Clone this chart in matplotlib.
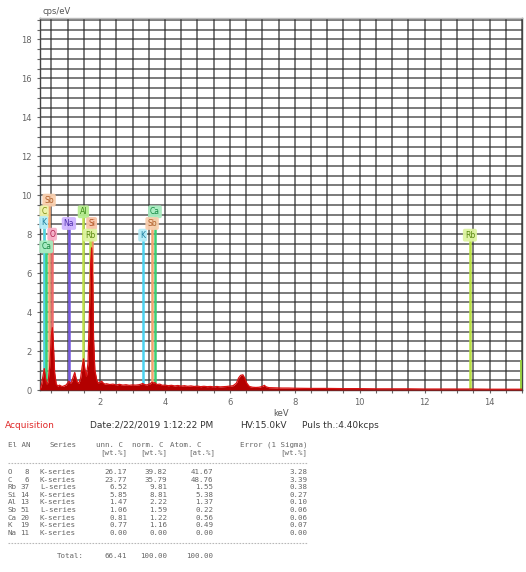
import matplotlib
matplotlib.use("Agg")
import matplotlib.pyplot as plt
from matplotlib.ticker import MultipleLocator

# ---- spectrum (energy in keV, intensity in cps/eV) ----
energy_kev = [
    0.15, 0.20, 0.25, 0.28, 0.32, 0.36, 0.40, 0.45, 0.50, 0.53, 0.56, 0.60,
    0.65, 0.70, 0.75, 0.80, 0.85, 0.90, 0.95, 1.00, 1.04, 1.08, 1.12, 1.18,
    1.22, 1.26, 1.30, 1.35, 1.40, 1.45, 1.49, 1.53, 1.58, 1.63, 1.67, 1.71,
    1.74, 1.77, 1.80, 1.84, 1.90, 1.95, 2.00, 2.05, 2.10, 2.15, 2.20, 2.30,
    2.40, 2.50, 2.60, 2.70, 2.80, 2.90, 3.00, 3.10, 3.20, 3.27, 3.31, 3.36,
    3.45, 3.55, 3.60, 3.65, 3.69, 3.75, 3.84, 3.92, 4.00, 4.10, 4.20, 4.30,
    4.40, 4.50, 4.60, 4.70, 4.80, 4.90, 5.00, 5.10, 5.20, 5.30, 5.40, 5.50,
    5.60, 5.70, 5.80, 5.90, 6.00, 6.10, 6.20, 6.27, 6.33, 6.40, 6.46, 6.52,
    6.60, 6.70, 6.80, 6.90, 7.00, 7.06, 7.12, 7.20, 7.40, 7.60, 7.80, 8.00,
    8.50, 9.00, 9.50, 10.00, 10.50, 11.00, 11.50, 12.00, 12.50, 13.00,
    13.50, 14.00, 14.50, 15.00,
]
intensity_cps = [
    0.00, 0.30, 0.80, 1.10, 0.60, 0.30, 0.40, 1.20, 2.80, 3.20, 2.40, 0.90,
    0.30, 0.20, 0.25, 0.20, 0.18, 0.22, 0.25, 0.35, 0.45, 0.35, 0.40, 0.70,
    0.90, 0.60, 0.40, 0.35, 0.60, 1.20, 1.60, 1.10, 0.70, 1.40, 3.80, 6.50,
    7.30, 5.80, 2.60, 1.00, 0.50, 0.35, 0.40, 0.45, 0.35, 0.30, 0.32, 0.28,
    0.30, 0.26, 0.29, 0.25, 0.27, 0.24, 0.26, 0.25, 0.27, 0.30, 0.34, 0.28,
    0.26, 0.33, 0.40, 0.36, 0.38, 0.28, 0.30, 0.24, 0.25, 0.22, 0.24, 0.21,
    0.23, 0.20, 0.22, 0.19, 0.21, 0.18, 0.20, 0.17, 0.19, 0.17, 0.18, 0.16,
    0.18, 0.16, 0.17, 0.18, 0.20, 0.22, 0.35, 0.62, 0.75, 0.78, 0.60, 0.35,
    0.18, 0.14, 0.13, 0.14, 0.18, 0.24, 0.16, 0.12, 0.11, 0.10, 0.10, 0.09,
    0.08, 0.08, 0.07, 0.07, 0.06, 0.06, 0.06, 0.05, 0.05, 0.05,
    0.05, 0.04, 0.04, 0.04,
]

# ---- element line markers: symbol, line energy (keV), label height (cps/eV) ----
marker_symbols = ["Sb", "C", "K", "O", "Ca", "Na", "Al", "Si", "Rb", "K", "Ca", "Sb", "Rb"]
marker_energies = [0.43, 0.277, 0.26, 0.525, 0.341, 1.041, 1.487, 1.740, 1.694,
                   3.313, 3.691, 3.604, 13.395]
marker_heights = [9.75, 9.15, 8.60, 8.00, 7.35, 8.55, 9.15, 8.55, 7.95,
                  7.95, 9.15, 8.55, 7.95]

# element colours: (line colour, label face, label text)
element_colors = {
    "Sb": ("#f2a470", "#f9cfae", "#b0602a"),
    "C":  ("#d6e24a", "#eef2a8", "#7c8a10"),
    "K":  ("#4cd2f0", "#b4ecf8", "#1a7ea0"),
    "O":  ("#f06a6a", "#f7b0c8", "#b02050"),
    "Ca": ("#3ccf74", "#a8ecc0", "#178a44"),
    "Na": ("#7458e0", "#cfb4ff", "#5030b0"),
    "Al": ("#bfe24a", "#b8ee90", "#3c8a18"),
    "Si": ("#f09060", "#f8c4a8", "#b05020"),
    "Rb": ("#b8e040", "#def4a0", "#5a8a10"),
}

# ---- quantification table ----
table_elements = ["O", "C", "Rb", "Si", "Al", "Sb", "Ca", "K", "Na"]
table_atomic_no = [8, 6, 37, 14, 13, 51, 20, 19, 11]
table_series = ["K-series", "K-series", "L-series", "K-series", "K-series",
                "L-series", "K-series", "K-series", "K-series"]
table_unn = [26.17, 23.77, 6.52, 5.85, 1.47, 1.06, 0.81, 0.77, 0.00]
table_norm = [39.82, 35.79, 9.81, 8.81, 2.22, 1.59, 1.22, 1.16, 0.00]
table_atom = [41.67, 48.76, 1.55, 5.38, 1.37, 0.22, 0.56, 0.49, 0.00]
table_error = [3.28, 3.39, 0.38, 0.27, 0.10, 0.06, 0.06, 0.07, 0.00]
total_unn, total_norm, total_atom = 66.41, 100.00, 100.00

W, H = 526, 572
fig = plt.figure(figsize=(W / 100, H / 100), dpi=100)
fig.patch.set_facecolor("white")


def fpos(x, y):
    """pixel position (from top-left) to figure fraction"""
    return x / W, 1 - y / H


ax = fig.add_axes([40 / W, 1 - 390 / H, 482 / W, 372 / H])
ax.set_xlim(0.15, 15.0)
ax.set_ylim(0, 19.1)

ax.xaxis.set_major_locator(MultipleLocator(2))
ax.xaxis.set_minor_locator(MultipleLocator(0.5))
ax.yaxis.set_major_locator(MultipleLocator(2))
ax.yaxis.set_minor_locator(MultipleLocator(0.5))
ax.grid(which="both", color="#2a2a2a", linewidth=1.2, alpha=0.72)
ax.set_axisbelow(True)
ax.tick_params(which="both", labelsize=6, colors="#666666", length=2.5, width=0.8)
ax.tick_params(which="minor", length=2)
ax.set_xticks([2, 4, 6, 8, 10, 12, 14])
ax.set_yticks(list(range(0, 19, 2)))
for s in ax.spines.values():
    s.set_color("#444444")
    s.set_linewidth(1.0)
ax.spines["top"].set_color("#bbbbbb")

# element marker lines with labels
for sym, e, h in zip(marker_symbols, marker_energies, marker_heights):
    lc, fc, tc = element_colors[sym]
    ax.plot([e, e], [0, h - 0.25], color=lc, linewidth=1.8, zorder=3)
    ax.text(e, h, sym, fontsize=5.5, color=tc, ha="center", va="center", zorder=6,
            bbox=dict(boxstyle="round,pad=0.25", facecolor=fc, edgecolor="none", alpha=0.95))
ax.plot([14.96, 14.96], [0, 1.5], color="#9ad040", linewidth=1.4, zorder=3)

# spectrum
ax.fill_between(energy_kev, intensity_cps, 0, color="#b30000", linewidth=0, zorder=4)
ax.plot(energy_kev, intensity_cps, color="#d81010", linewidth=0.9, zorder=5)

ax.set_xlabel("keV", fontsize=6, color="#555555", labelpad=1)
ax.text(0.005, 1.005, "cps/eV", transform=ax.transAxes, fontsize=6, color="#555555",
        ha="left", va="bottom")

# acquisition line
fig.text(*fpos(5, 425), "Acquisition", fontsize=6.5, color="#e02828", va="center")
fig.text(*fpos(90, 425), "Date:2/22/2019 1:12:22 PM", fontsize=6.5, color="#333333", va="center")
fig.text(*fpos(240, 425), "HV:15.0kV", fontsize=6.5, color="#333333", va="center")
fig.text(*fpos(302, 425), "Puls th.:4.40kcps", fontsize=6.5, color="#333333", va="center")

# quantification table
mono = dict(family="DejaVu Sans Mono", fontsize=5.4, color="#666666", va="center")
fig.text(*fpos(8, 445), "El AN", ha="left", **mono)
fig.text(*fpos(50, 445), "Series", ha="left", **mono)
fig.text(*fpos(123, 445), "unn. C", ha="right", **mono)
fig.text(*fpos(163, 445), "norm. C", ha="right", **mono)
fig.text(*fpos(202, 445), "Atom. C", ha="right", **mono)
fig.text(*fpos(307, 445), "Error (1 Sigma)", ha="right", **mono)
fig.text(*fpos(127, 453), "[wt.%]", ha="right", **mono)
fig.text(*fpos(167, 453), "[wt.%]", ha="right", **mono)
fig.text(*fpos(215, 453), "[at.%]", ha="right", **mono)
fig.text(*fpos(307, 453), "[wt.%]", ha="right", **mono)

for yy in (463, 543):
    x0, y0 = fpos(8, yy)
    x1, _ = fpos(307, yy)
    fig.add_artist(plt.Line2D([x0, x1], [y0, y0], color="#b8b8b8", linewidth=0.8,
                              linestyle=(0, (1.5, 1.2)), transform=fig.transFigure))

for i, el in enumerate(table_elements):
    yy = 472 + 7.6 * i
    fig.text(*fpos(8, yy), el, ha="left", **mono)
    fig.text(*fpos(29, yy), str(table_atomic_no[i]), ha="right", **mono)
    fig.text(*fpos(40, yy), table_series[i], ha="left", **mono)
    fig.text(*fpos(127, yy), f"{table_unn[i]:.2f}", ha="right", **mono)
    fig.text(*fpos(167, yy), f"{table_norm[i]:.2f}", ha="right", **mono)
    fig.text(*fpos(213, yy), f"{table_atom[i]:.2f}", ha="right", **mono)
    fig.text(*fpos(307, yy), f"{table_error[i]:.2f}", ha="right", **mono)

fig.text(*fpos(84, 556), "Total:", ha="right", **mono)
fig.text(*fpos(127, 556), f"{total_unn:.2f}", ha="right", **mono)
fig.text(*fpos(167, 556), f"{total_norm:.2f}", ha="right", **mono)
fig.text(*fpos(213, 556), f"{total_atom:.2f}", ha="right", **mono)

fig.savefig("out.png", dpi=100, facecolor="white")
